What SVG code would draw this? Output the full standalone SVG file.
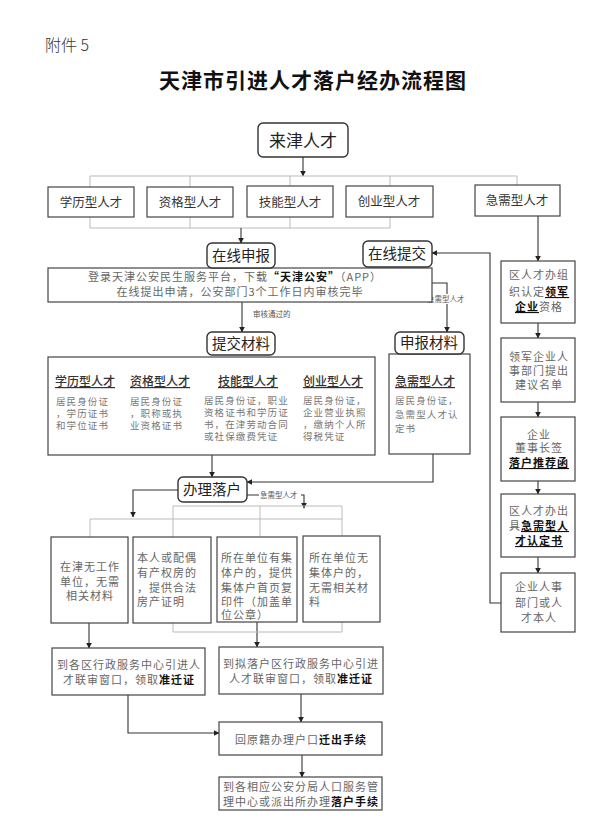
<svg xmlns="http://www.w3.org/2000/svg" width="600" height="831" viewBox="0 0 600 831">
<defs>
<marker id="ar" viewBox="0 0 10 10" refX="9" refY="5" markerWidth="6" markerHeight="6" orient="auto" markerUnits="userSpaceOnUse">
<path d="M0,0 L10,5 L0,10 z" fill="#222"/>
</marker>
</defs>
<style>
text{font-family:"Noto Sans CJK SC","Noto Sans",sans-serif;}
.box{fill:#fff;stroke:#444;stroke-width:1.2;}
.rbox{fill:#fff;stroke:#333;stroke-width:1.4;}
.ln{fill:none;stroke:#333;stroke-width:1.1;}
.lt{fill:none;stroke:#bbb;stroke-width:1;}
.cat{font-size:12.5px;fill:#333;text-anchor:middle;}
.lab{font-size:14.5px;fill:#222;text-anchor:middle;}
.t{font-size:11px;fill:#666;letter-spacing:1px;}
.c{text-anchor:middle;}
.b{fill:#111;font-weight:bold;}
.hd{font-size:12px;fill:#333;text-decoration:underline;font-weight:500;}
.m{font-size:9.5px;fill:#777;letter-spacing:1.1px;}
.sm{font-size:7.5px;fill:#555;}
</style>
<rect width="600" height="831" fill="#fff"/>
<text x="45" y="51" font-size="16" fill="#333" font-weight="300">附件 5</text>
<text x="313" y="88" font-size="21" font-weight="bold" fill="#111" text-anchor="middle" letter-spacing="1">天津市引进人才落户经办流程图</text>

<g id="connectors">
<path class="ln" d="M303,157 V176" marker-end="url(#ar)"/>
<path class="lt" d="M90,176 H517 M90,176 V187 M190,176 V187 M290,176 V187 M390,176 V187 M517,176 V185"/>
<path class="lt" d="M90,217 V228 H390 M190,217 V228 M290,217 V228 M390,217 V228"/>
<path class="ln" d="M241,228 V243" marker-end="url(#ar)"/>
<path class="ln" d="M538,216 V261" marker-end="url(#ar)"/>
<path class="ln" d="M242,302 V332" marker-end="url(#ar)"/>
<path class="ln" d="M432,283 H447 V332" marker-end="url(#ar)"/>
<path class="ln" d="M212,455 V477" marker-end="url(#ar)"/>
<path class="ln" d="M433,454 V482 H247" marker-end="url(#ar)"/>
<path class="ln" d="M247,495 H304 V508" marker-end="url(#ar)"/>
<path class="ln" d="M178,490 H133 V517" marker-end="url(#ar)"/>
<path class="lt" d="M90,519 H342 M173,506 H342 M90,519 V537 M173,506 V537 M260,506 V536 M342,506 V536"/>
<path class="ln" d="M89,623 V648" marker-end="url(#ar)"/>
<path class="ln" d="M257,622 V647" marker-end="url(#ar)"/>
<path class="lt" d="M173,623 V632 H342 V622"/>
<path class="ln" d="M301,694 V722" marker-end="url(#ar)"/>
<path class="ln" d="M128,695 V733 H219" marker-end="url(#ar)"/>
<path class="ln" d="M302,755 V777" marker-end="url(#ar)"/>
<path class="ln" d="M538,323 V338" marker-end="url(#ar)"/>
<path class="ln" d="M538,402 V417" marker-end="url(#ar)"/>
<path class="ln" d="M538,481 V494" marker-end="url(#ar)"/>
<path class="ln" d="M538,557 V573" marker-end="url(#ar)"/>
<path class="ln" d="M501,603 H490 V253 H432" marker-end="url(#ar)"/>
<rect x="252" y="309" width="50" height="10" fill="#fff"/>
<text class="sm" x="253" y="317">审核通过的</text>
<rect x="426" y="294" width="42" height="10" fill="#fff"/>
<text class="sm" x="427" y="302">急需型人才</text>
<rect x="259" y="490" width="42" height="10" fill="#fff"/>
<text class="sm" x="260" y="498">急需型人才</text>
</g>

<g id="n-laijin">
<rect class="rbox" x="258" y="123" width="90" height="34" rx="5"/>
<text x="303" y="147" font-size="17" fill="#222" text-anchor="middle">来津人才</text>
</g>

<g id="n-cat1"><rect class="box" x="48" y="187" width="86" height="30"/><text class="cat" x="91" y="207">学历型人才</text></g>
<g id="n-cat2"><rect class="box" x="147" y="187" width="86" height="30"/><text class="cat" x="190" y="207">资格型人才</text></g>
<g id="n-cat3"><rect class="box" x="247" y="186" width="86" height="31"/><text class="cat" x="290" y="207">技能型人才</text></g>
<g id="n-cat4"><rect class="box" x="346" y="186" width="87" height="31"/><text class="cat" x="389" y="206">创业型人才</text></g>
<g id="n-cat5"><rect class="box" x="475" y="185" width="85" height="31"/><text class="cat" x="517" y="205">急需型人才</text></g>

<g id="n-online">
<rect class="box" x="48" y="268" width="384" height="34"/>
<text class="t c" x="235" y="281" font-size="10.5" letter-spacing="0.3">登录天津公安民生服务平台，下载<tspan class="b">“天津公安”</tspan>（APP）</text>
<text class="t c" x="240" y="296">在线提出申请，公安部门3个工作日内审核完毕</text>
</g>
<g id="n-zaixianshenbao"><rect class="rbox" x="207" y="243" width="68" height="25" rx="5"/><text class="lab" x="241" y="261">在线申报</text></g>
<g id="n-zaixiantijiao"><rect class="rbox" x="363" y="241" width="69" height="26" rx="5"/><text class="lab" x="397" y="259">在线提交</text></g>

<g id="n-materials">
<rect class="box" x="48" y="357" width="327" height="98"/>
<text class="hd" x="55" y="386">学历型人才</text>
<text class="hd" x="130" y="386">资格型人才</text>
<text class="hd" x="218" y="386">技能型人才</text>
<text class="hd" x="303" y="386">创业型人才</text>
<text class="m" x="56" y="405">居民身份证</text>
<text class="m" x="56" y="417">，学历证书</text>
<text class="m" x="56" y="429">和学位证书</text>
<text class="m" x="130" y="405">居民身份证</text>
<text class="m" x="130" y="417">，职称或执</text>
<text class="m" x="130" y="429">业资格证书</text>
<text class="m" x="204" y="404">居民身份证，职业</text>
<text class="m" x="204" y="416">资格证书和学历证</text>
<text class="m" x="204" y="428">书，在津劳动合同</text>
<text class="m" x="204" y="440">或社保缴费凭证</text>
<text class="m" x="303" y="404">居民身份证，</text>
<text class="m" x="303" y="416">企业营业执照</text>
<text class="m" x="303" y="428">，缴纳个人所</text>
<text class="m" x="303" y="440">得税凭证</text>
</g>
<g id="n-tijiaocailiao"><rect class="rbox" x="207" y="332" width="68" height="23" rx="5"/><text class="lab" x="241" y="349">提交材料</text></g>

<g id="n-urgentmat">
<rect class="box" x="389" y="354" width="81" height="100"/>
<text class="hd" x="395" y="386">急需型人才</text>
<text class="m" x="395" y="404">居民身份证，</text>
<text class="m" x="395" y="418">急需型人才认</text>
<text class="m" x="395" y="432">定书</text>
</g>
<g id="n-shenbaocailiao"><rect class="rbox" x="395" y="332" width="69" height="22" rx="5"/><text class="lab" x="429" y="348">申报材料</text></g>

<g id="n-r1"><rect class="box" x="501" y="261" width="74" height="62"/>
<text class="t c" x="539" y="279">区人才办组</text>
<text class="t c" x="539" y="296">织认定<tspan class="b" text-decoration="underline">领军</tspan></text>
<text class="t c" x="539" y="311"><tspan class="b" text-decoration="underline">企业</tspan>资格</text></g>
<g id="n-r2"><rect class="box" x="501" y="338" width="74" height="64"/>
<text class="t c" x="539" y="361">领军企业人</text>
<text class="t c" x="539" y="375">事部门提出</text>
<text class="t c" x="539" y="389">建议名单</text></g>
<g id="n-r3"><rect class="box" x="501" y="417" width="74" height="64"/>
<text class="t c" x="539" y="439">企业</text>
<text class="t c" x="539" y="452">董事长签</text>
<text class="t c b" x="539" y="467" text-decoration="underline">落户推荐函</text></g>
<g id="n-r4"><rect class="box" x="501" y="494" width="74" height="63"/>
<text class="t c" x="539" y="515">区人才办出</text>
<text class="t c" x="539" y="530">具<tspan class="b" text-decoration="underline">急需型人</tspan></text>
<text class="t c b" x="539" y="545" text-decoration="underline">才认定书</text></g>
<g id="n-r5"><rect class="box" x="501" y="573" width="74" height="59"/>
<text class="t c" x="539" y="591">企业人事</text>
<text class="t c" x="539" y="607">部门或人</text>
<text class="t c" x="539" y="622">才本人</text></g>

<g id="n-banli"><rect class="rbox" x="178" y="477" width="69" height="25" rx="5"/><text class="lab" x="212" y="495">办理落户</text></g>

<g id="n-o1"><rect class="box" x="51" y="537" width="77" height="86"/>
<text class="t c" x="90" y="571">在津无工作</text>
<text class="t c" x="90" y="586">单位，无需</text>
<text class="t c" x="90" y="600">相关材料</text></g>
<g id="n-o2"><rect class="box" x="133" y="537" width="78" height="86"/>
<text class="t" x="137" y="562">本人或配偶</text>
<text class="t" x="137" y="577">有产权房的</text>
<text class="t" x="137" y="592">，提供合法</text>
<text class="t" x="137" y="606">房产证明</text></g>
<g id="n-o3"><rect class="box" x="217" y="537" width="80" height="85"/>
<text class="t" x="221" y="562">所在单位有集</text>
<text class="t" x="221" y="577">体户的，提供</text>
<text class="t" x="221" y="592">集体户首页复</text>
<text class="t" x="221" y="606">印件（加盖单</text>
<text class="t" x="221" y="619">位公章）</text></g>
<g id="n-o4"><rect class="box" x="303" y="536" width="77" height="86"/>
<text class="t" x="309" y="562">所在单位无</text>
<text class="t" x="309" y="577">集体户的，</text>
<text class="t" x="309" y="592">无需相关材</text>
<text class="t" x="309" y="606">料</text></g>

<g id="n-t1"><rect class="box" x="52" y="648" width="153" height="47"/>
<text class="t c" x="129" y="669">到各区行政服务中心引进人</text>
<text class="t c" x="129" y="684">才联审窗口，领取<tspan class="b">准迁证</tspan></text></g>
<g id="n-t2"><rect class="box" x="219" y="647" width="164" height="47"/>
<text class="t c" x="301" y="668">到拟落户区行政服务中心引进</text>
<text class="t c" x="301" y="683">人才联审窗口，领取<tspan class="b">准迁证</tspan></text></g>
<g id="n-huiyuanji"><rect class="box" x="219" y="722" width="163" height="33"/>
<text class="t c" x="301" y="744">回原籍办理户口<tspan class="b">迁出手续</tspan></text></g>
<g id="n-final"><rect class="box" x="219" y="777" width="163" height="33"/>
<text class="t c" x="301" y="791" font-size="10.5" letter-spacing="0.6">到各相应公安分局人口服务管</text>
<text class="t c" x="301" y="806" font-size="10.5" letter-spacing="0.6">理中心或派出所办理<tspan class="b">落户手续</tspan></text></g>
</svg>
